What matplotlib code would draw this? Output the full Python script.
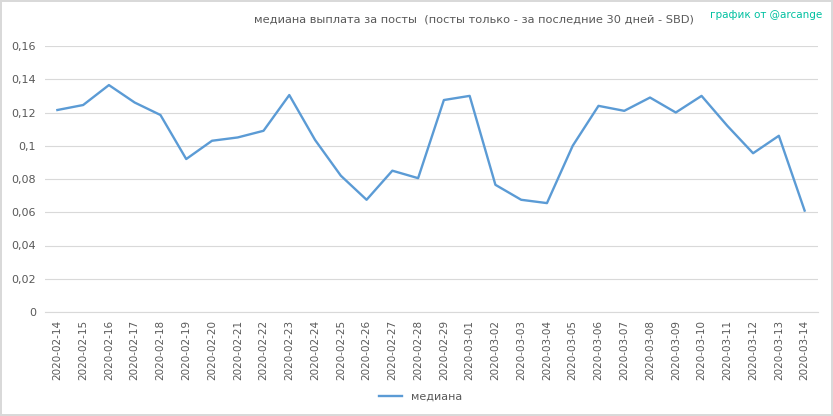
import matplotlib
matplotlib.use("Agg")
import matplotlib.pyplot as plt
import pandas as pd

dates = [d.strftime("%Y-%m-%d") for d in pd.date_range("2020-02-14", "2020-03-14")]
values = [0.1215, 0.1245, 0.1365, 0.126, 0.1185, 0.092, 0.103, 0.105, 0.109, 0.1305,
          0.1035, 0.082, 0.0675, 0.085, 0.0805, 0.1275, 0.130, 0.0765, 0.0675, 0.0655,
          0.100, 0.124, 0.121, 0.129, 0.120, 0.130, 0.112, 0.0955, 0.106, 0.061]
yticks = [0, 0.02, 0.04, 0.06, 0.08, 0.1, 0.12, 0.14, 0.16]
ylabels = ["0", "0,02", "0,04", "0,06", "0,08", "0,1", "0,12", "0,14", "0,16"]

fig = plt.figure(figsize=(8.33, 4.16), dpi=100)
fig.patch.set_edgecolor("#d9d9d9")
fig.patch.set_linewidth(1.5)
ax = fig.add_axes([44.5/833, 1-312/416, (817.5-44.5)/833, (312-46)/416])
x = list(range(len(dates)))
ax.plot(x, values, color="#5b9bd5", lw=1.7, label="медиана")
ax.set_xlim(-0.5, len(dates)-0.5)
ax.set_ylim(0, 0.16)
ax.set_yticks(yticks)
ax.set_yticklabels(ylabels, fontsize=8, color="#595959")
ax.set_xticks(x)
ax.set_xticklabels(dates, rotation=90, fontsize=7.5, color="#595959")
ax.tick_params(length=0, pad=6)
ax.grid(axis="y", color="#d9d9d9", lw=0.8)
ax.set_axisbelow(True)
for s in ["top", "right", "left"]:
    ax.spines[s].set_visible(False)
ax.spines["bottom"].set_color("#d9d9d9")
fig.text(474/833, 1-19/416, "медиана выплата за посты  (посты только - за последние 30 дней - SBD)",
         ha="center", va="center", fontsize=8.2, color="#595959")
fig.text(822/833, 1-15/416, "график от @arcange", ha="right", va="center", fontsize=7.5, color="#00c0a0")
fig.legend(loc="center", bbox_to_anchor=(0.505, 1-397/416), frameon=False, fontsize=8,
           labelcolor="#595959")
fig.savefig("out.png", dpi=100)
